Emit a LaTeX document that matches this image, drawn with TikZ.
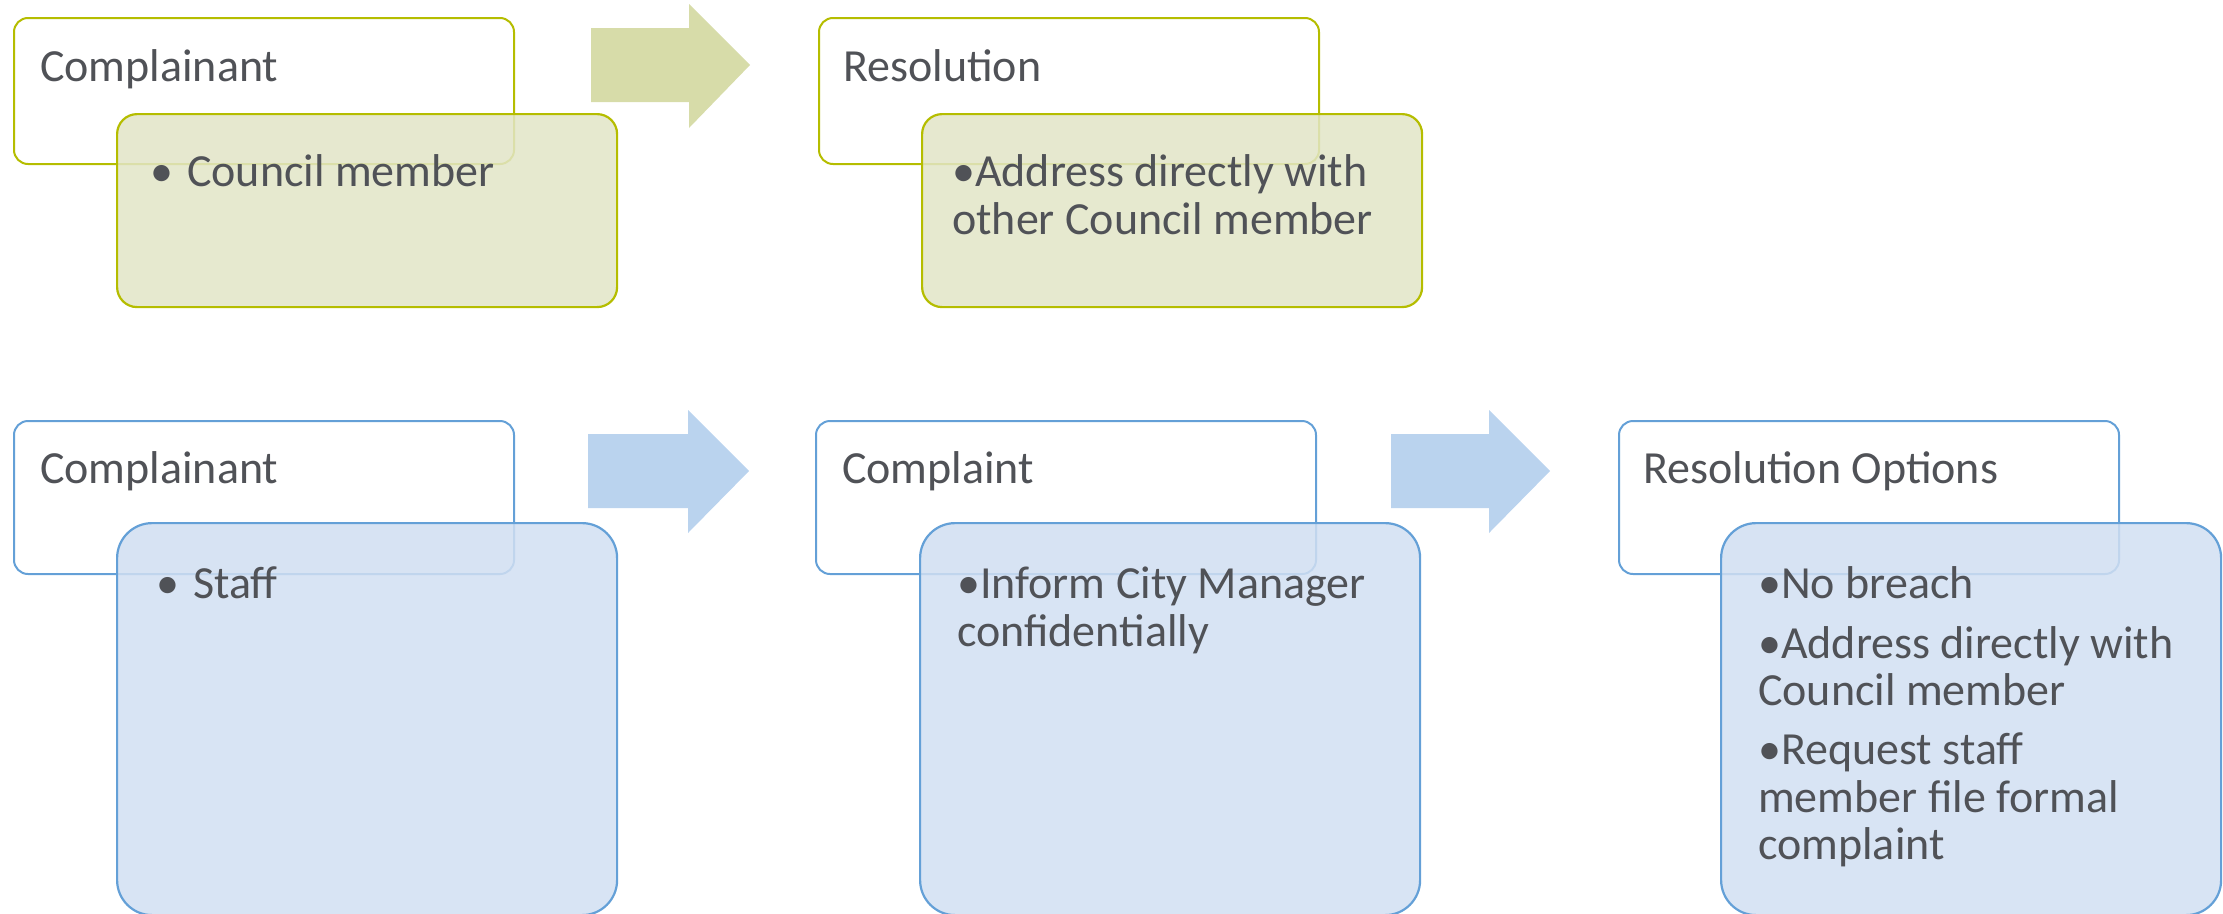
\documentclass[tikz,border=0pt]{standalone}
\usepackage{fontspec}
\setmainfont{Carlito}
\definecolor{olive}{RGB}{181,189,0}
\definecolor{olivefront}{RGB}{226,229,199}
\definecolor{olivearrow}{RGB}{215,220,169}
\definecolor{blueline}{RGB}{100,160,215}
\definecolor{bluefront}{RGB}{209,223,242}
\definecolor{bluearrow}{RGB}{186,211,238}
\definecolor{ink}{RGB}{80,82,87}
\begin{document}
\begin{tikzpicture}[x=1pt,y=-1pt,
  backbox/.style={draw=#1, fill=white, line width=2pt, rounded corners=14pt,
    anchor=north west, inner sep=0pt, minimum width=500pt, minimum height=146pt},
  frontbox/.style 2 args={draw=#1, fill=#2, fill opacity=0.85, line width=2.2pt,
    anchor=north west, inner sep=0pt, minimum width=500pt},
  label/.style={anchor=base west, inner sep=0pt, text=ink,
    font=\fontsize{46}{47}\selectfont}]
\useasboundingbox (0,0) rectangle (2223,913);

% ---- top row: council member complainant ----
\node[backbox=olive] (a1) at (13,17) {};
\node[frontbox={olive}{olivefront}, minimum height=193pt, rounded corners=20pt] (a2) at (116,113) {};
\node[backbox=olive] (b1) at (818,17) {};
\node[frontbox={olive}{olivefront}, minimum height=193pt, rounded corners=20pt] (b2) at (921,113) {};

\fill[olivearrow] (591,28) -- (689,28) -- (689,4) -- (750,65) -- (689,128) -- (689,102) -- (591,102) -- cycle;

\node[label] (ta1) at (40,81) {Complainant};
\node[label] (ta2) at (150,186) {•\hspace{14pt}Council member};
\node[label] (tb1) at (843,81) {Resolution};
\node[label] (tb2a) at (952,186) {•Address directly with};
\node[label] (tb2b) at (952,234) {other Council member};

% ---- bottom row: staff complainant ----
\node[backbox=blueline, minimum height=153pt] (c1) at (13,420) {};
\node[frontbox={blueline}{bluefront}, minimum height=392pt, rounded corners=35pt] (c2) at (116,522) {};
\node[backbox=blueline, minimum height=153pt] (d1) at (815,420) {};
\node[frontbox={blueline}{bluefront}, minimum height=392pt, rounded corners=35pt] (d2) at (919,522) {};
\node[backbox=blueline, minimum height=153pt] (e1) at (1618,420) {};
\node[frontbox={blueline}{bluefront}, minimum height=392pt, rounded corners=35pt] (e2) at (1720,522) {};

\fill[bluearrow] (588,434) -- (688,434) -- (688,410) -- (749,471) -- (688,533) -- (688,508) -- (588,508) -- cycle;
\fill[bluearrow] (1391,434) -- (1489,434) -- (1489,410) -- (1550,471) -- (1489,533) -- (1489,508) -- (1391,508) -- cycle;

\node[label] (tc1) at (40,483) {Complainant};
\node[label] (tc2) at (156,598) {•\hspace{14pt}Staff};
\node[label] (td1) at (842,483) {Complaint};
\node[label] (td2a) at (957,598) {•Inform City Manager};
\node[label] (td2b) at (957,646) {confidentially};
\node[label] (te1) at (1643,483) {Resolution Options};
\node[label] (te2a) at (1758,598) {•No breach};
\node[label] (te2b) at (1758,658) {•Address directly with};
\node[label] (te2c) at (1758,705) {Council member};
\node[label] (te2d) at (1758,764) {•Request staff};
\node[label] (te2e) at (1758,812) {member file formal};
\node[label] (te2f) at (1758,859) {complaint};
\end{tikzpicture}
\end{document}
